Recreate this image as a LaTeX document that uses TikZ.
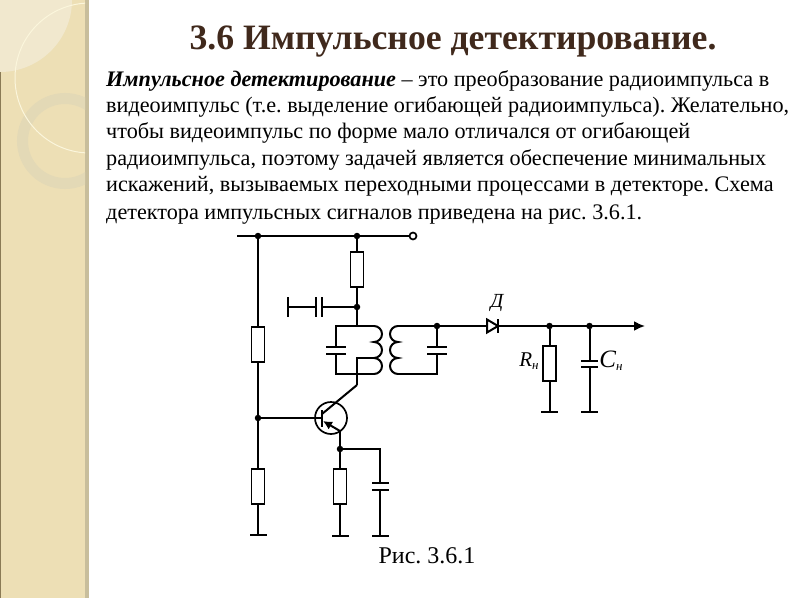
\documentclass[tikz,border=0pt]{standalone}
\usepackage{fontspec}
\setmainfont{Liberation Serif}
\usetikzlibrary{arrows.meta}
\tikzset{>=latex}
\definecolor{stripcol}{HTML}{EDDFB5}
\definecolor{stripedge}{HTML}{C8BE9C}
\definecolor{stripdark}{HTML}{8A7A55}
\definecolor{leafcol}{HTML}{F1E8CE}
\definecolor{ringcol}{HTML}{E3D9B6}
\definecolor{arccol}{HTML}{FBF6DC}
\definecolor{titlecol}{HTML}{40291C}
\tikzset{dot/.style={inner sep=0pt,minimum size=6.5pt,circle,fill=black}}
\tikzset{wire/.style={line width=2pt}}
\tikzset{res/.style={draw,line width=1.8pt,fill=white,rectangle,inner sep=0pt,minimum width=13pt,minimum height=35pt}}
\tikzset{hplate/.style={fill=black,inner sep=0pt,minimum width=20pt,minimum height=2.2pt}}
\tikzset{vplate/.style={fill=black,inner sep=0pt,minimum width=2.2pt,minimum height=20pt}}
\tikzset{bodyline/.style={anchor=base west,inner sep=0pt,font=\fontsize{22.2}{24}\selectfont}}
\begin{document}
\frenchspacing
\begin{tikzpicture}[x=1pt,y=-1pt]
\fill[white] (0,0) rectangle (800,600);
\fill[stripcol] (0,0) rectangle (85,598);
\fill[stripedge] (85,0) rectangle (89,598);
\begin{scope}
\clip (0,0) rectangle (85,598);
\fill[leafcol] (0,0) circle[radius=72pt];
\draw[ringcol,line width=11pt] (65,141) circle[radius=42.5pt];
\draw[arccol,line width=1pt] (90,78) circle[radius=75pt];
\end{scope}
\fill[stripdark] (0,72) rectangle (1.2,598);

\node[font=\fontsize{35.7}{38}\selectfont\bfseries,text=titlecol] (title) at (453,42) {3.6 Импульсное детектирование.};
\node[bodyline] (l1) at (106,86) {\textbf{\textit{Импульсное детектирование}} – это преобразование радиоимпульса в};
\node[bodyline] (l2) at (106,112) {видеоимпульс (т.е. выделение огибающей радиоимпульса). Желательно,};
\node[bodyline] (l3) at (106,138) {чтобы видеоимпульс по форме мало отличался от огибающей};
\node[bodyline] (l4) at (106,165) {радиоимпульса, поэтому задачей является обеспечение минимальных};
\node[bodyline] (l5) at (106,191) {искажений, вызываемых переходными процессами в детекторе. Схема};
\node[bodyline] (l6) at (106,219) {детектора импульсных сигналов приведена на рис. 3.6.1.};

\coordinate (start) at (237,236);
\node[dot] (topA) at (258,236) {};
\node[dot] (topB) at (357,236) {};
\node[circle,draw,line width=1.7pt,fill=white,inner sep=0pt,minimum size=7pt] (term) at (413,236) {};
\node[res] (R1) at (258,344.5) {};
\node[res] (R2) at (357,269.5) {};
\node[res] (R3) at (258,486.5) {};
\node[res] (R4) at (340,486.5) {};
\node[res] (R5) at (549.5,363.5) {};
\node[dot] (midB) at (357,307) {};
\node[vplate] (Cbl) at (316,307) {};
\node[vplate] (Cbr) at (322,307) {};
\node[vplate] (gndT) at (288,307) {};

\coordinate (priTop) at (357,326);
\coordinate (priL) at (336,326);
\coordinate (priR) at (374,326);
\coordinate (priBL) at (336,374);
\coordinate (priBR) at (374,374);
\coordinate (tap) at (357,358);
\coordinate (tapR) at (374,358);
\coordinate (priB) at (357,374);
\coordinate (bend) at (357,385);
\node[hplate] (C1a) at (336,347) {};
\node[hplate] (C1b) at (336,354) {};
\coordinate (secL) at (398,326);
\coordinate (secBL) at (398,374);
\coordinate (secBR) at (437,374);
\node[dot] (secDot) at (437,326) {};
\node[hplate] (C2a) at (437,347) {};
\node[hplate] (C2b) at (437,354) {};

\draw[wire] (start) -- (term);
\draw[wire] (topA) -- (R1);
\draw[wire] (topB) -- (R2);
\draw[wire] (R2) -- (midB);
\draw[wire] (midB) -- (priTop);
\draw[wire] (midB) -- (Cbr);
\draw[wire] (Cbl) -- (gndT);
\draw[wire] (priR) -- (priL) -- (C1a);
\draw[wire] (C1b) -- (priBL) -- (priBR);
\draw[wire] (priR) arc[start angle=90,end angle=-90,radius=8pt] arc[start angle=90,end angle=-90,radius=8pt] arc[start angle=90,end angle=-90,radius=8pt];
\draw[wire] (tapR) -- (tap) -- (priB) -- (bend);
\draw[wire] (secL) arc[start angle=90,end angle=270,radius=8pt] arc[start angle=90,end angle=270,radius=8pt] arc[start angle=90,end angle=270,radius=8pt];
\draw[wire] (secL) -- (secDot);
\draw[wire] (secDot) -- (C2a);
\draw[wire] (C2b) -- (secBR) -- (secBL);

\node[dot] (baseDot) at (258,418) {};
\node[circle,draw,line width=1.7pt,inner sep=0pt,minimum size=32pt] (T) at (331,418) {};
\node[vplate,minimum height=17pt] (baseBar) at (322,418) {};
\coordinate (collIn) at (322,414);
\coordinate (emitIn) at (323,421);
\coordinate (emitOut) at (340,431);
\draw[wire] (R1) -- (R3);
\draw[wire] (baseDot) -- (baseBar);
\draw[wire] (bend) -- (collIn);
\draw[wire,<-,>={Latex[length=9pt,width=9pt]}] (emitIn) -- (emitOut);
\node[dot] (emitDot) at (340,449) {};
\coordinate (capTurn) at (380,449);
\node[hplate,minimum width=17pt] (C3a) at (380,483) {};
\node[hplate,minimum width=17pt] (C3b) at (380,490) {};
\node[hplate,minimum width=17pt] (gnd1) at (258,535) {};
\node[hplate,minimum width=17pt] (gnd2) at (340,536) {};
\node[hplate,minimum width=17pt] (gnd3) at (380,536) {};
\draw[wire] (emitOut) -- (emitDot);
\draw[wire] (emitDot) -- (R4);
\draw[wire] (R4) -- (gnd2);
\draw[wire] (R3) -- (gnd1);
\draw[wire] (emitDot) -- (capTurn) -- (C3a);
\draw[wire] (C3b) -- (gnd3);

\node[vplate,minimum height=14pt] (Dbar) at (498,326) {};
\coordinate (Dtail) at (487,326);
\node[hplate,minimum width=17pt] (gnd4) at (549.5,412) {};
\node[hplate,minimum width=17pt] (gnd5) at (589.5,412) {};
\node[hplate,minimum width=17pt] (C4a) at (589.5,361) {};
\node[hplate,minimum width=17pt] (C4b) at (589.5,367) {};
\node[dot] (outA) at (549.5,326) {};
\node[dot] (outB) at (589.5,326) {};
\coordinate (outEnd) at (645,326);
\draw[wire,fill=white] (487,319.5) -- (498,326) -- (487,332.5) -- cycle;
\draw[wire] (secDot) -- (Dtail);
\draw[wire,->,>={Latex[length=11pt,width=10pt]}] (Dbar) -- (outEnd);
\draw[wire] (outA) -- (R5);
\draw[wire] (R5) -- (gnd4);
\draw[wire] (outB) -- (C4a);
\draw[wire] (C4b) -- (gnd5);

\node[font=\fontsize{20}{22}\selectfont\itshape] (Dlabel) at (497,303) {Д};
\node[font=\fontsize{21}{22}\selectfont\itshape] (Rlabel) at (529,361) {R\raisebox{-3pt}{\fontsize{13}{13}\selectfont н}};
\node[font=\fontsize{25}{26}\selectfont\itshape] (Clabel) at (611,361) {C\raisebox{-3pt}{\fontsize{13}{13}\selectfont н}};
\node[font=\fontsize{24}{26}\selectfont] (caption) at (427,556) {Рис. 3.6.1};
\end{tikzpicture}
\end{document}
